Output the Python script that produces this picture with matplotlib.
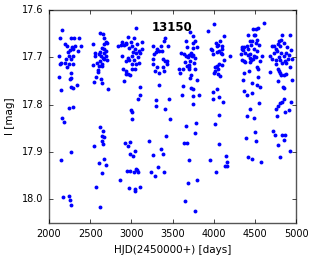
import numpy as np
import matplotlib
matplotlib.use("Agg")
import matplotlib.pyplot as plt

star_id = "13150"

# light curve points (HJD-2450000, I mag)
hjd = np.array([
    2158, 2134, 2263, 2304, 2368, 2198, 2223, 2279, 2320, 2385, 2287, 2255, 2352, 2231,
    2125, 2247, 2296, 2206, 2271, 2142, 2134, 2190, 2239, 2287, 2223, 2271, 2125, 2263,
    2255, 2344, 2271, 2287, 2142, 2239, 2287, 2158, 2182, 2271, 2142, 2174, 2247, 2255, 2271,
    2623, 2656, 2664, 2688, 2672, 2534, 2704, 2640, 2672, 2688, 2623, 2559, 2664, 2607,
    2559, 2631, 2688, 2656, 2704, 2615, 2672, 2583, 2640, 2534, 2648, 2607, 2599, 2591,
    2575, 2631, 2542, 2648, 2712, 2623, 2656, 2648, 2672, 2640, 2656, 2550, 2664, 2607,
    2696, 2648, 2567, 2623,
    3052, 2963, 3028, 2890, 2931, 2996, 3125, 2842, 2874, 2915, 2939, 3012, 3069, 2971,
    3044, 3093, 3133, 3020, 3061, 3109, 2890, 2955, 3004, 3077, 3036, 2971, 2939, 3093,
    3004, 3052, 2899, 2931, 3012, 3044, 2939, 2963, 2988, 2915, 3101, 3109, 3077, 2996,
    3012, 3012, 2923, 2988, 2955, 3044, 2988, 3020, 2947, 2988, 3052, 3069, 3036, 3085,
    2866, 2971, 3044, 3101, 3044,
    3413, 3397, 3259, 3364, 3445, 3308, 3340, 3300, 3372, 3275, 3381, 3413, 3437, 3267,
    3267, 3429, 3308, 3389, 3283, 3397, 3340, 3332, 3300, 3453, 3300, 3413, 3470, 3210,
    3421, 3356, 3267, 3389, 3324, 3243, 3397, 3291,
    3713, 3746, 3770, 3665, 3754, 3681, 3794, 3746, 3729, 3600, 3640, 3705, 3754, 3665,
    3689, 3737, 3770, 3648, 3713, 3762, 3705, 3673, 3697, 3575, 3624, 3697, 3770, 3592,
    3729, 3713, 3794, 3632, 3729, 3754, 3616, 3746, 3818, 3746, 3786, 3665, 3778, 3681,
    3640, 3705, 3802, 3689, 3656, 3770,
    4000, 3936, 4122, 4073, 4025, 4049, 3968, 3984, 4098, 4041, 4106, 4065, 4041, 4089,
    3992, 4106, 4195, 4122, 4065, 4017, 4041, 4106, 4017, 4057, 4008, 4049, 4081, 4041,
    3992, 4065, 3992, 4114, 4065, 4017, 4065, 4146, 3960, 4162, 4138, 4162, 4033,
    4607, 4534, 4478, 4510, 4502, 4421, 4486, 4437, 4462, 4526, 4510, 4551, 4405, 4348,
    4372, 4453, 4340, 4356, 4421, 4494, 4526, 4332, 4381, 4413, 4445, 4486, 4583, 4437,
    4510, 4348, 4372, 4453, 4478, 4381, 4445, 4559, 4526, 4543, 4429, 4372, 4534, 4356,
    4470, 4526, 4567, 4372, 4405, 4462, 4551, 4445, 4405, 4494, 4502, 4389, 4518, 4413,
    4470, 4575,
    4834, 4923, 4793, 4818, 4704, 4729, 4777, 4858, 4810, 4753, 4891, 4939, 4680, 4737,
    4769, 4818, 4874, 4915, 4793, 4850, 4899, 4712, 4810, 4753, 4866, 4947, 4761, 4826,
    4883, 4923, 4785, 4793, 4810, 4688, 4818, 4850, 4883, 4947, 4785, 4842, 4858, 4850,
    4939, 4826, 4810, 4777, 4753, 4915, 4866, 4769, 4721, 4745, 4826, 4866, 4850, 4785,
    4923, 4810,
])
mag = np.array([
    17.642, 17.658, 17.659, 17.660, 17.658, 17.672, 17.675, 17.679, 17.676, 17.676, 17.683, 17.684, 17.687, 17.689,
    17.696, 17.697, 17.697, 17.703, 17.704, 17.711, 17.714, 17.711, 17.713, 17.714, 17.720, 17.734, 17.742, 17.743,
    17.746, 17.759, 17.762, 17.765, 17.769, 17.807, 17.804, 17.829, 17.836, 17.900, 17.916, 17.994, 17.992, 18.002, 18.012,
    17.649, 17.651, 17.660, 17.668, 17.672, 17.672, 17.669, 17.680, 17.683, 17.686, 17.689, 17.690, 17.691, 17.693,
    17.697, 17.697, 17.698, 17.701, 17.705, 17.707, 17.704, 17.711, 17.714, 17.717, 17.718, 17.718, 17.727, 17.731,
    17.742, 17.746, 17.753, 17.755, 17.766, 17.848, 17.856, 17.866, 17.869, 17.876, 17.884, 17.888, 17.915, 17.923,
    17.928, 17.945, 17.973, 18.016,
    17.638, 17.656, 17.660, 17.668, 17.669, 17.668, 17.668, 17.676, 17.673, 17.673, 17.672, 17.676, 17.672, 17.680,
    17.683, 17.686, 17.683, 17.689, 17.690, 17.691, 17.697, 17.701, 17.696, 17.700, 17.705, 17.705, 17.708, 17.711,
    17.714, 17.713, 17.725, 17.728, 17.725, 17.724, 17.735, 17.736, 17.738, 17.749, 17.762, 17.780, 17.788, 17.811,
    17.815, 17.831, 17.880, 17.878, 17.887, 17.897, 17.904, 17.909, 17.940, 17.940, 17.935, 17.939, 17.943, 17.942,
    17.960, 17.976, 17.978, 17.974, 17.983,
    17.659, 17.666, 17.675, 17.675, 17.675, 17.683, 17.686, 17.689, 17.687, 17.693, 17.704, 17.708, 17.708, 17.703,
    17.713, 17.714, 17.720, 17.720, 17.729, 17.728, 17.734, 17.759, 17.790, 17.788, 17.803, 17.810, 17.831, 17.876,
    17.866, 17.893, 17.907, 17.904, 17.931, 17.942, 17.942, 17.950,
    17.646, 17.655, 17.665, 17.665, 17.670, 17.679, 17.679, 17.680, 17.690, 17.691, 17.693, 17.694, 17.694, 17.698,
    17.700, 17.698, 17.701, 17.710, 17.708, 17.711, 17.715, 17.718, 17.721, 17.725, 17.725, 17.724, 17.724, 17.734,
    17.738, 17.743, 17.748, 17.760, 17.765, 17.766, 17.780, 17.781, 17.779, 17.798, 17.839, 17.846, 17.860, 17.880,
    17.881, 17.916, 17.959, 17.966, 18.004, 18.025,
    17.630, 17.645, 17.655, 17.666, 17.670, 17.673, 17.682, 17.684, 17.676, 17.676, 17.682, 17.686, 17.689, 17.690,
    17.693, 17.693, 17.696, 17.705, 17.713, 17.720, 17.718, 17.717, 17.729, 17.725, 17.734, 17.735, 17.739, 17.766,
    17.773, 17.783, 17.787, 17.794, 17.822, 17.841, 17.884, 17.909, 17.916, 17.922, 17.929, 17.929, 17.942,
    17.628, 17.637, 17.641, 17.641, 17.652, 17.652, 17.653, 17.665, 17.665, 17.663, 17.670, 17.673, 17.675, 17.677,
    17.679, 17.673, 17.683, 17.684, 17.682, 17.682, 17.686, 17.693, 17.691, 17.694, 17.693, 17.696, 17.698, 17.701,
    17.700, 17.705, 17.708, 17.705, 17.704, 17.710, 17.710, 17.707, 17.721, 17.724, 17.728, 17.732, 17.742, 17.748,
    17.755, 17.758, 17.763, 17.772, 17.779, 17.776, 17.796, 17.808, 17.824, 17.829, 17.857, 17.871, 17.877, 17.911,
    17.915, 17.921,
    17.652, 17.653, 17.666, 17.663, 17.676, 17.676, 17.672, 17.669, 17.675, 17.683, 17.677, 17.684, 17.696, 17.691,
    17.687, 17.690, 17.691, 17.694, 17.700, 17.698, 17.703, 17.704, 17.705, 17.705, 17.708, 17.703, 17.714, 17.711,
    17.711, 17.720, 17.724, 17.728, 17.734, 17.731, 17.738, 17.738, 17.736, 17.748, 17.750, 17.763, 17.765, 17.787,
    17.794, 17.795, 17.797, 17.803, 17.808, 17.811, 17.815, 17.824, 17.855, 17.863, 17.863, 17.863, 17.874, 17.886,
    17.897, 17.911,
])

xticks = [2000, 2500, 3000, 3500, 4000, 4500, 5000]
yticks = [17.6, 17.7, 17.8, 17.9, 18.0]

plt.style.use("classic")
fig = plt.figure(figsize=(3.16, 2.59), dpi=100)
ax = fig.add_axes([0.155, 0.139, 0.782, 0.822])

ax.plot(hjd, mag, "o", color="blue", mec="blue", ms=2.8, mew=0)
ax.text(3498, 17.636, star_id, ha="center", va="center",
        fontsize=8.5, fontweight="bold")

ax.set_xlim(2000, 5000)
ax.set_ylim(18.05, 17.6)
ax.set_xticks(xticks)
ax.set_yticks(yticks)
ax.set_xticklabels([str(t) for t in xticks], fontsize=7)
ax.set_yticklabels([f"{t:.1f}" for t in yticks], fontsize=7)
ax.tick_params(direction="in", length=3, top=True, right=True)
for sp in ax.spines.values():
    sp.set_color("#555555")
ax.set_xlabel("HJD(2450000+) [days]", fontsize=7.5)
ax.set_ylabel("I [mag]", fontsize=7.5)

fig.savefig("out.png", dpi=100)
